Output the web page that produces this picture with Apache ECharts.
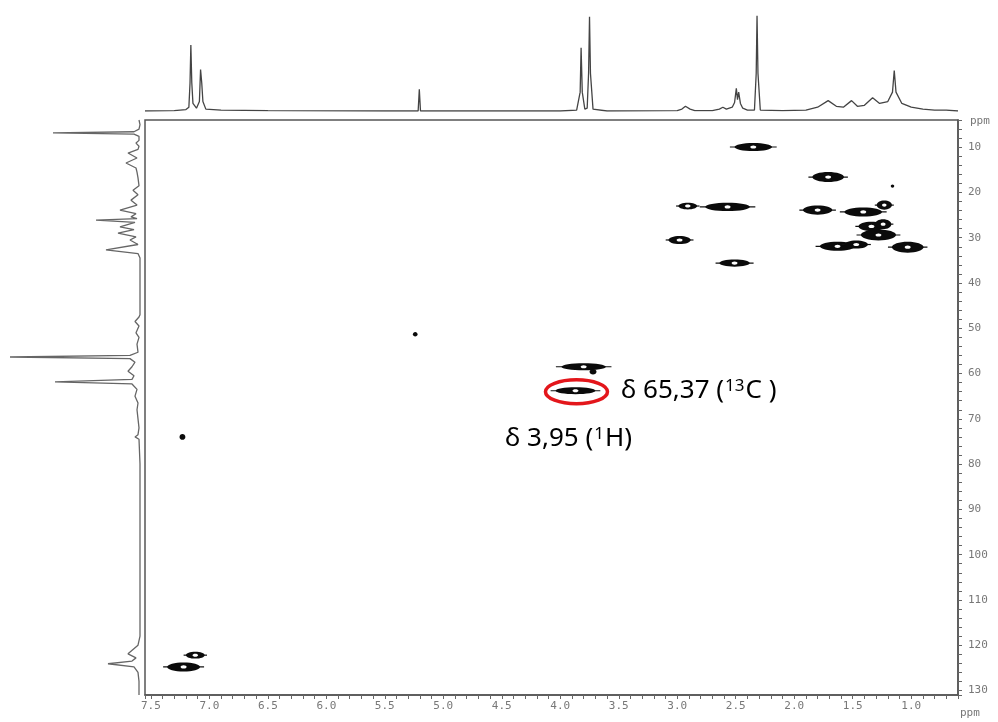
<!DOCTYPE html>
<html>
<head>
<meta charset="utf-8">
<script src="https://cdn.jsdelivr.net/npm/echarts@6/dist/echarts.min.js"></script>
<style>
  html, body { margin: 0; padding: 0; background: #fff; }
  #hsqc { width: 998px; height: 722px; }
</style>
</head>
<body>
<div id="hsqc"></div>
<script>
// axis tick labels (ppm)
var xTickLabels = [7.5, 7.0, 6.5, 6.0, 5.5, 5.0, 4.5, 4.0, 3.5, 3.0, 2.5, 2.0, 1.5, 1.0]
var yTickLabels = [10, 20, 30, 40, 50, 60, 70, 80, 90, 100, 110, 120, 130]

// 1H projection on top: [ppm, intensity]
var protonTrace = [
  [7.55, 0], [7.30, 0.5], [7.20, 1.5], [7.175, 4], [7.165, 30], [7.158, 70], [7.150, 30],
  [7.14, 8], [7.11, 3], [7.085, 10], [7.075, 44], [7.065, 30], [7.055, 10], [7.03, 2],
  [6.9, 1], [6.5, 0.5], [5.5, 0], [5.215, 0], [5.205, 23], [5.195, 0], [4.5, 0], [4.0, 0],
  [3.86, 1], [3.83, 20], [3.822, 67], [3.812, 20], [3.79, 2], [3.77, 3], [3.758, 40],
  [3.750, 100], [3.742, 40], [3.72, 2], [3.6, 0], [3.0, 0.5], [2.96, 2], [2.93, 5],
  [2.89, 2], [2.85, 0.5], [2.70, 0.5], [2.64, 2], [2.61, 4], [2.58, 2], [2.53, 4],
  [2.51, 9], [2.495, 24], [2.485, 12], [2.475, 20], [2.46, 8], [2.44, 3], [2.40, 1],
  [2.34, 1], [2.325, 40], [2.318, 101], [2.31, 40], [2.29, 1], [2.1, 0.5], [1.9, 1],
  [1.80, 4], [1.71, 11], [1.64, 5], [1.58, 4], [1.51, 11], [1.46, 5], [1.40, 6],
  [1.33, 14], [1.27, 8], [1.20, 10], [1.16, 20], [1.145, 43], [1.13, 20], [1.08, 8],
  [1.0, 4], [0.9, 2], [0.8, 1], [0.7, 1], [0.6, 0]
]

// 13C projection on the left: [intensity, ppm]
var carbonTrace = [
  [1, 4], [0, 5.0], [1, 6.0], [6, 6.6], [87, 6.85], [6, 7.1], [1, 7.6], [1, 8.5],
  [4, 9.1], [1, 9.8], [2, 10.5], [12, 11.3], [3, 12.4], [14, 13.5], [4, 14.6], [3, 15.5],
  [2, 16.8], [1, 18.5], [7, 19.5], [2, 20.5], [9, 21.7], [3, 22.8], [20, 23.9], [4, 24.7],
  [9, 25.4], [3, 25.8], [44, 26.1], [5, 26.6], [20, 27.6], [6, 28.2], [22, 29.0],
  [4, 29.8], [10, 30.5], [2, 31.5], [34, 32.7], [2, 33.5], [0, 34.5], [0, 47.0],
  [1, 47.5], [5, 48.5], [1, 49.5], [4, 51.0], [1, 52.0], [3, 53.5], [2, 55.3], [10, 56.0],
  [130, 56.35], [10, 56.7], [5, 57.5], [8, 58.5], [12, 59.5], [6, 60.5], [8, 61.3],
  [85, 61.85], [8, 62.3], [3, 63.5], [5, 65.0], [2, 66.5], [3, 68.0], [2, 70.0],
  [1, 72.0], [2, 73.5], [5, 74.0], [1, 74.5], [0, 80.0], [0, 118.0], [2, 120.0],
  [12, 121.9], [4, 122.8], [8, 123.5], [32, 124.1], [6, 124.8], [2, 126.0], [1, 128.0],
  [1, 131.0]
]

// HSQC cross peaks: 1H shift, 13C shift, width in 1H, width in 13C (ppm)
var crossH = [2.35, 1.71, 1.16, 2.91, 2.57, 1.80, 1.41, 1.23, 1.34, 1.24, 1.28, 1.63, 1.47, 1.03, 2.98, 2.51, 3.80, 3.72, 3.87, 5.24, 7.23, 7.12, 7.22]
var crossC = [9.96, 16.6, 18.6, 23.0, 23.2, 23.9, 24.3, 22.8, 27.5, 27.0, 29.4, 31.9, 31.5, 32.1, 30.5, 35.6, 58.5, 59.6, 63.8, 51.3, 74.0, 122.2, 124.8]
var crossWH = [0.32, 0.27, 0.03, 0.16, 0.38, 0.25, 0.32, 0.13, 0.22, 0.14, 0.30, 0.30, 0.20, 0.27, 0.19, 0.26, 0.38, 0.06, 0.34, 0.04, 0.05, 0.16, 0.28]
var crossWC = [1.8, 2.2, 0.7, 1.5, 1.8, 2.0, 2.0, 2.0, 2.0, 2.2, 2.4, 2.0, 1.8, 2.4, 1.8, 1.6, 1.6, 1.2, 1.5, 1.0, 1.3, 1.5, 2.0]

// highlighted peak
var markedPeak = [3.87, 63.8]

var chart = echarts.init(document.getElementById('hsqc'))

var peakData = crossH.map(function(h, i) {
  return [h, crossC[i], crossWH[i], crossWC[i]]
})

function isTick(list, v) {
  return list.some(function(t) { return Math.abs(t - v) < 1e-6 })
}

// contour blob
function renderPeak(params, api) {
  var c = api.coord([api.value(0), api.value(1)])
  var s = api.size([api.value(2), api.value(3)])
  var rx = Math.max(s[0] / 2, 1.6)
  var ry = Math.max(s[1] / 2, 1.6)
  var kids = []
  if (rx > 5) {
    kids.push({
      type: 'line',
      shape: { x1: c[0] - rx * 1.25, y1: c[1], x2: c[0] + rx * 1.25, y2: c[1] },
      style: { stroke: '#111', lineWidth: 1.2 }
    })
  }
  kids.push({
    type: 'ellipse',
    shape: { cx: c[0], cy: c[1], rx: rx, ry: ry },
    style: { fill: '#0b0b0b' }
  })
  if (rx > 5) {
    kids.push({
      type: 'ellipse',
      shape: { cx: c[0], cy: c[1], rx: Math.min(rx * 0.3, 3), ry: Math.min(ry * 0.45, 1.6) },
      style: { fill: '#fff' }
    })
  }
  return { type: 'group', children: kids }
}

var labelStyle = {
  color: '#777',
  fontFamily: 'DejaVu Sans Mono',
  fontSize: 11
}

var noteRich = {
  n: { fontFamily: 'Noto Sans', fontSize: 26, color: '#1a1a1a' },
  s: { fontFamily: 'Noto Sans', fontSize: 17, color: '#1a1a1a', verticalAlign: 'top', padding: [0, 1, 0, 1] }
}

chart.setOption({
  animation: false,
  backgroundColor: '#fff',
  grid: [
    // main 2D plot
    { left: 145, right: 40, top: 120, bottom: 27, show: true, borderColor: '#555', borderWidth: 1.5 },
    // 1H projection
    { left: 145, right: 40, top: 11, height: 100 },
    // 13C projection
    { left: 5, width: 135, top: 120, bottom: 27 }
  ],
  xAxis: [
    {
      gridIndex: 0,
      type: 'value',
      min: 0.6,
      max: 7.55,
      interval: 0.1,
      inverse: true,
      axisLine: { show: true, lineStyle: { color: '#555', width: 1.5 } },
      axisTick: { show: true, length: 4, lineStyle: { color: '#666' } },
      splitLine: { show: false },
      axisLabel: Object.assign({
        margin: 6,
        formatter: function(v) {
          return isTick(xTickLabels, v) ? v.toFixed(1) : ''
        }
      }, labelStyle)
    },
    { gridIndex: 1, type: 'value', min: 0.6, max: 7.55, inverse: true, show: false },
    { gridIndex: 2, type: 'value', min: 0, max: 135, inverse: true, show: false }
  ],
  yAxis: [
    {
      gridIndex: 0,
      type: 'value',
      position: 'right',
      min: 4,
      max: 131,
      interval: 2,
      inverse: true,
      axisLine: { show: true, lineStyle: { color: '#555', width: 1.5 } },
      axisTick: { show: true, length: 4, lineStyle: { color: '#666' } },
      splitLine: { show: false },
      axisLabel: Object.assign({
        margin: 10,
        formatter: function(v) {
          return isTick(yTickLabels, v) ? String(v) : ''
        }
      }, labelStyle)
    },
    { gridIndex: 1, type: 'value', min: 0, max: 106, show: false },
    { gridIndex: 2, type: 'value', min: 4, max: 131, inverse: true, show: false }
  ],
  graphic: [
    { type: 'text', left: 960, top: 708, style: { text: 'ppm', fill: '#777', font: '11px "DejaVu Sans Mono"' } },
    { type: 'text', left: 970, top: 116, style: { text: 'ppm', fill: '#777', font: '11px "DejaVu Sans Mono"' } },
    { type: 'text', left: 621, top: 378, style: { text: '{n|δ 65,37 (}{s|13}{n|C )}', rich: noteRich } },
    { type: 'text', left: 505, top: 426, style: { text: '{n|δ 3,95 (}{s|1}{n|H)}', rich: noteRich } }
  ],
  series: [
    {
      name: '1H',
      type: 'line',
      xAxisIndex: 1,
      yAxisIndex: 1,
      data: protonTrace,
      symbol: 'none',
      lineStyle: { color: '#444', width: 1.3 }
    },
    {
      name: '13C',
      type: 'line',
      xAxisIndex: 2,
      yAxisIndex: 2,
      data: carbonTrace,
      symbol: 'none',
      lineStyle: { color: '#666', width: 1.3 }
    },
    {
      name: 'HSQC',
      type: 'custom',
      xAxisIndex: 0,
      yAxisIndex: 0,
      data: peakData,
      renderItem: renderPeak,
      z: 3
    },
    {
      name: 'marked',
      type: 'custom',
      xAxisIndex: 0,
      yAxisIndex: 0,
      data: [markedPeak],
      renderItem: function(params, api) {
        var c = api.coord([api.value(0), api.value(1)])
        return {
          type: 'ellipse',
          shape: { cx: c[0] + 1, cy: c[1] + 1, rx: 31, ry: 12 },
          style: { fill: 'none', stroke: '#e3161b', lineWidth: 3.5 }
        }
      },
      z: 4
    }
  ]
})
</script>
</body>
</html>
